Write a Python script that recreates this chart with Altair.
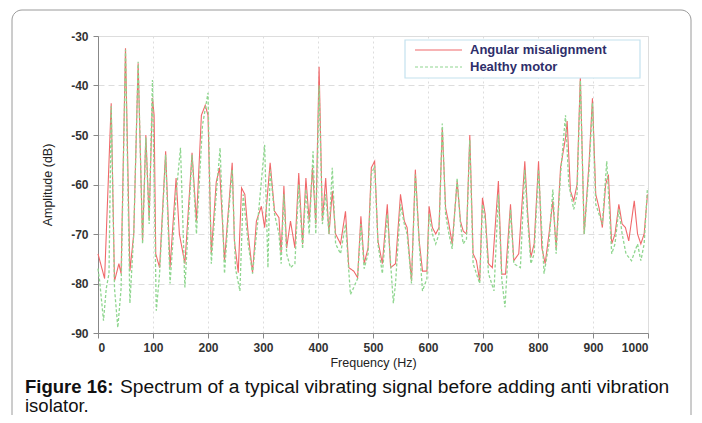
import altair as alt
import pandas as pd

# Angular misalignment (red, solid)
red_freq = [0, 12, 24, 30, 38, 42, 50, 58, 65, 73, 81, 87, 93, 99, 102, 105, 112, 123, 131, 142, 148, 158,
            171, 179, 188, 195, 200, 206, 215, 221, 230, 236, 244, 248, 255, 261, 267, 273, 281, 288, 297,
            303, 313, 321, 329, 333, 338, 343, 350, 358, 365, 372, 378, 384, 390, 396, 402, 408, 414, 420,
            426, 432, 441, 450, 456, 465, 472, 478, 484, 491, 497, 503, 509, 517, 526, 532, 541, 550, 557,
            562, 570, 577, 584, 590, 598, 602, 608, 614, 620, 626, 632, 638, 644, 653, 659, 664, 670, 676,
            682, 688, 694, 699, 704, 710, 717, 728, 734, 741, 750, 756, 765, 776, 781, 787, 793, 801, 807,
            813, 820, 827, 833, 841, 850, 853, 859, 865, 871, 877, 884, 893, 899, 905, 911, 917, 923, 928,
            934, 940, 947, 953, 959, 965, 975, 981, 987, 993, 999]
red_db = [-74, -79, -43.6, -79.5, -76, -78, -32.5, -77.5, -70, -35.5, -71.5, -50, -67, -42.5, -46, -74, -76.8,
          -53.3, -76.8, -58.7, -70, -76, -53.6, -67.4, -46, -44, -46, -74, -59.5, -56.6, -75.4, -66.7, -55.6,
          -71.4, -77.8, -60.7, -62, -70, -77.8, -67.4, -64.4, -68.7, -55.6, -65.4, -66.7, -74, -60.3, -72.8,
          -67.4, -72.8, -57.7, -72, -58.7, -67.4, -56.6, -68, -36.2, -67.4, -58.7, -70, -61.3, -70, -72,
          -65.4, -76.8, -77.5, -78.8, -66.4, -76, -72.8, -56.6, -55.3, -71.4, -76, -64, -76.8, -76, -62,
          -67.4, -68.7, -79.5, -57, -71.4, -77.5, -77.5, -64.4, -68.7, -70, -68.7, -48.6, -64.7, -68, -72,
          -59.3, -67.4, -69.4, -70, -50, -74, -75.4, -79.5, -62.7, -66, -76, -76.8, -59.3, -78.1, -78.1,
          -64, -75.4, -74, -55.3, -65.4, -74.7, -72, -55.3, -72.8, -76, -70, -63.3, -72.8, -56.6, -50.6,
          -47.2, -61.3, -63.3, -60, -38, -70, -55.3, -42.6, -62, -64.7, -68.7, -60, -58, -72, -70, -64,
          -68, -68.7, -71.4, -63.3, -70, -72, -70, -62]

# Healthy motor (green, dashed)
green_freq = [0, 3, 10, 15, 20, 24, 30, 36, 42, 50, 58, 65, 73, 81, 87, 93, 99, 106, 112, 123, 131, 142, 150,
              158, 171, 179, 190, 200, 206, 215, 222, 230, 236, 244, 250, 258, 264, 273, 281, 290, 303, 309,
              313, 321, 329, 333, 338, 343, 350, 358, 365, 372, 378, 384, 391, 396, 402, 408, 414, 420, 426,
              432, 441, 450, 459, 465, 472, 478, 484, 491, 497, 503, 509, 517, 526, 537, 541, 550, 557, 562,
              570, 577, 584, 590, 598, 602, 608, 614, 620, 626, 632, 638, 644, 653, 659, 664, 670, 676, 682,
              694, 699, 704, 710, 720, 728, 734, 740, 750, 756, 768, 776, 781, 787, 793, 801, 811, 820, 827,
              833, 841, 850, 856, 865, 871, 877, 884, 893, 899, 905, 911, 917, 925, 934, 940, 947, 953, 960,
              970, 981, 987, 993, 999]
green_db = [-77, -79.5, -87.5, -81, -78, -44.2, -81, -88.9, -81, -32.8, -84, -70, -35.2, -72, -50.5, -68,
            -38.9, -85.5, -78, -54, -80, -62, -52.6, -80.8, -54, -70, -48, -41.5, -76, -62, -52.6, -78, -68,
            -57, -77, -81.5, -62, -72, -78, -68, -52, -76.8, -57, -66, -70, -76, -62, -74, -76.8, -76, -60,
            -73, -61, -70, -53.3, -70, -40, -68, -62, -70, -56.6, -72, -74, -68, -82.2, -80.8, -79, -68, -77,
            -74, -58, -56.2, -72, -78, -66, -84, -80, -64, -68, -70, -80, -58, -72, -81.5, -79, -66, -70, -72,
            -70, -47.7, -66, -70, -73, -58.7, -68, -72, -71, -51, -76, -80, -64, -67, -78, -81.5, -62, -79,
            -84.8, -65, -76, -76.8, -57, -67, -76, -74, -57, -78, -72, -61, -74, -58, -46, -60, -65, -62, -39,
            -70, -57, -43.5, -64, -66, -68, -55.3, -74, -72, -65, -70, -74, -75.4, -72, -75.4, -72, -60.7]

series_names = ["Angular misalignment", "Healthy motor"]
series_colors = ["#f0686a", "#8fd68f"]
series_dash = [[1, 0], [3, 2]]
x_ticks = list(range(0, 1001, 100))
y_ticks = list(range(-90, -29, 10))

df_red = pd.DataFrame({"freq": red_freq, "db": red_db, "series": series_names[0]})
df_green = pd.DataFrame({"freq": green_freq, "db": green_db, "series": series_names[1]})

W, H = 550, 297
LBL = dict(labelFont="Liberation Sans", labelFontWeight="bold", labelFontSize=12, labelColor="#333333",
           titleFont="Liberation Sans", titleFontWeight="normal", titleFontSize=12.5, titleColor="#222222",
           labelExpr="'' + datum.value")

x_enc = alt.X("freq:Q", scale=alt.Scale(domain=[0, 1000], nice=False),
              axis=alt.Axis(values=x_ticks, title="Frequency (Hz)", gridDash=[2, 3],
                            labelPadding=4, titlePadding=3, **LBL))
y_enc = alt.Y("db:Q", scale=alt.Scale(domain=[-90, -30], nice=False),
              axis=alt.Axis(values=y_ticks, title="Amplitude (dB)", gridDash=[6, 4],
                            labelPadding=5, titlePadding=16, **LBL))
color_enc = alt.Color("series:N", scale=alt.Scale(domain=series_names, range=series_colors), legend=None)
dash_enc = alt.StrokeDash("series:N", scale=alt.Scale(domain=series_names, range=series_dash), legend=None)

red = alt.Chart(df_red).mark_line(strokeWidth=1.1).encode(x=x_enc, y=y_enc, color=color_enc, strokeDash=dash_enc)
green = alt.Chart(df_green).mark_line(strokeWidth=1.3).encode(x=x_enc, y=y_enc, color=color_enc, strokeDash=dash_enc)

one = pd.DataFrame({"k": [0]})
border = alt.Chart(one).mark_rect(fill=None, stroke="#9a9a9a", strokeWidth=1, cornerRadius=10,
                                  clip=False).encode(
    x=alt.value(-86), x2=alt.value(593), y=alt.value(-26), y2=alt.value(420))

# legend box (manual, matching the reference layout)
leg_box = alt.Chart(one).mark_rect(fill="white", stroke="#c4e2ee", strokeWidth=1.2).encode(
    x=alt.value(307), x2=alt.value(542), y=alt.value(4), y2=alt.value(42))
leg_layers = []
for i, (name, col, dash) in enumerate(zip(series_names, series_colors, series_dash)):
    yy = 14 + i * 17
    leg_layers.append(alt.Chart(one).mark_rule(color=col, strokeWidth=1.2, strokeDash=dash).encode(
        x=alt.value(317), x2=alt.value(364), y=alt.value(yy)))
    leg_layers.append(alt.Chart(one).mark_text(text=name, align="left", baseline="middle",
                                               font="Liberation Sans", fontWeight="bold", fontSize=13,
                                               color="#2e2e6a").encode(x=alt.value(372), y=alt.value(yy)))

cap_bold = alt.Chart(one).mark_text(text="Figure 16:", align="left", baseline="alphabetic",
                                     font="Liberation Sans", fontWeight="bold", fontSize=18.5,
                                     color="#111111").encode(x=alt.value(-73), y=alt.value(357))
cap_rest = alt.Chart(one).mark_text(text="Spectrum of a typical vibrating signal before adding anti vibration",
                                     align="left", baseline="alphabetic",
                                     font="Liberation Sans", fontSize=19.2,
                                     color="#111111").encode(x=alt.value(22), y=alt.value(357))
cap_line2 = alt.Chart(one).mark_text(text="isolator.", align="left", baseline="alphabetic",
                                      font="Liberation Sans", fontSize=18.5,
                                      color="#111111").encode(x=alt.value(-73), y=alt.value(376))

chart = alt.layer(border, red, green, leg_box, *leg_layers, cap_bold, cap_rest, cap_line2).properties(
    width=W, height=H,
    autosize=alt.AutoSizeParams(type="none"),
    padding={"left": 90, "top": 28, "right": 46, "bottom": 82},
).configure_view(stroke="#b9a9a3", strokeWidth=1.2).configure_axis(
    grid=True, gridColor="#7d6d66", gridWidth=1, gridOpacity=1,
    domain=False, ticks=False,
).configure(background="white")

chart.save("out.html", embed_options={"renderer": "svg", "actions": False})
